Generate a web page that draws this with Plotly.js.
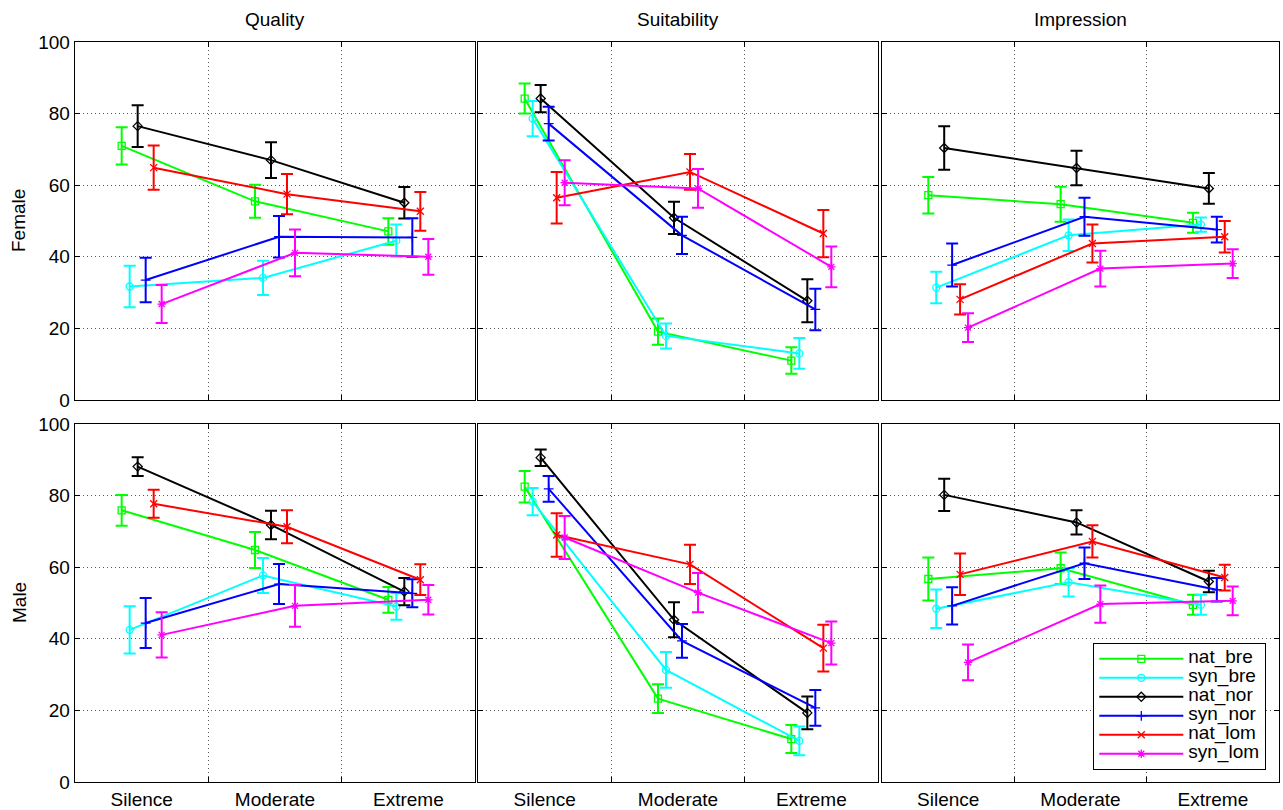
<!DOCTYPE html>
<html><head><meta charset="utf-8">
<script src="https://cdn.plot.ly/plotly-3.0.1.min.js"></script>
<style>html,body{margin:0;padding:0;background:#fff}</style>
</head><body><div id="chart" style="width:1283px;height:810px"></div>
<script>
// ---- data ----
const categories = ['Silence', 'Moderate', 'Extreme'];
const seriesNames = ['nat_bre', 'syn_bre', 'nat_nor', 'syn_nor', 'nat_lom', 'syn_lom'];
const panelTitles = ['Quality', 'Suitability', 'Impression'];
const rowTitles = ['Female', 'Male'];
const yTicks = [0, 20, 40, 60, 80, 100];

// rows follow seriesNames order; columns follow categories
const femaleQuality = [
  [71.0, 55.5, 47.1], [31.7, 34.1, 44.5], [76.5, 67.0, 55.1],
  [33.5, 45.6, 45.4], [64.9, 57.5, 52.7], [26.8, 41.1, 40.0]];
const femaleQualityErr = [
  [5.2, 4.6, 3.7], [5.8, 4.8, 4.5], [5.8, 5.0, 4.4],
  [6.2, 5.8, 5.4], [6.2, 5.6, 5.4], [5.3, 6.5, 5.0]];

const femaleSuitability = [
  [84.2, 19.1, 11.0], [78.6, 17.9, 13.0], [84.2, 50.9, 27.7],
  [77.2, 46.0, 25.3], [56.5, 63.7, 46.5], [60.7, 59.1, 37.2]];
const femaleSuitabilityErr = [
  [4.2, 3.7, 3.7], [4.9, 3.5, 4.3], [3.8, 4.5, 6.0],
  [4.7, 5.2, 5.8], [7.2, 5.0, 6.6], [6.3, 5.4, 5.7]];

const femaleImpression = [
  [57.2, 54.7, 49.5], [31.4, 46.0, 49.0], [70.4, 64.8, 59.1],
  [37.7, 51.2, 47.6], [28.1, 43.7, 45.6], [20.2, 36.7, 38.1]];
const femaleImpressionErr = [
  [5.1, 4.9, 2.8], [4.4, 4.4, 2.0], [6.1, 4.8, 4.3],
  [6.0, 5.3, 3.6], [4.2, 5.3, 4.4], [4.0, 5.0, 4.0]];

const maleQuality = [
  [75.9, 64.8, 50.9], [42.5, 57.7, 49.0], [88.1, 71.8, 53.2],
  [44.4, 55.3, 52.7], [77.7, 71.3, 56.5], [41.1, 49.2, 50.9]];
const maleQualityErr = [
  [4.3, 5.0, 3.6], [6.6, 4.9, 3.7], [2.6, 4.0, 3.8],
  [7.0, 5.6, 3.9], [3.9, 4.6, 4.3], [6.3, 5.8, 4.1]];

const maleSuitability = [
  [82.5, 23.3, 12.0], [78.3, 31.3, 11.5], [90.6, 45.3, 19.3],
  [81.9, 39.4, 20.7], [69.0, 60.8, 37.4], [68.3, 52.9, 38.8]];
const maleSuitabilityErr = [
  [4.4, 4.0, 3.9], [3.8, 5.0, 4.0], [2.3, 4.9, 4.6],
  [3.6, 4.7, 5.0], [6.1, 5.5, 6.5], [6.0, 5.5, 6.0]];

const maleImpression = [
  [56.7, 59.7, 49.5], [48.4, 55.8, 49.5], [80.2, 72.5, 56.0],
  [49.2, 61.1, 53.7], [58.0, 67.2, 57.1], [33.4, 49.7, 50.6]];
const maleImpressionErr = [
  [6.0, 4.4, 2.8], [5.4, 4.0, 2.8], [4.5, 3.4, 3.0],
  [5.2, 4.4, 3.3], [5.8, 4.5, 3.6], [5.0, 5.2, 4.0]];

// ---- styles ----
const colors = ['#00ff00', '#00ffff', '#000000', '#0000ff', '#ff0000', '#ff00ff'];
const symbols = ['square-open', 'circle-open', 'diamond-open', 'cross-thin-open', 'x-thin-open', 'asterisk-open'];
const dodge = [-0.15, -0.09, -0.03, 0.03, 0.09, 0.15];
const FONT = 'Liberation Sans, Arial, Helvetica, sans-serif';
const GRID = {showgrid: true, gridcolor: '#555', griddash: '1px,3px', gridwidth: 1};

const panels = [
  [femaleQuality, femaleQualityErr], [femaleSuitability, femaleSuitabilityErr], [femaleImpression, femaleImpressionErr],
  [maleQuality, maleQualityErr], [maleSuitability, maleSuitabilityErr], [maleImpression, maleImpressionErr]];

const W = 1283, H = 810;
const xDom = [[75 / W, 475 / W], [478 / W, 878 / W], [882 / W, 1279 / W]];
const yDom = [[1 - 400 / H, 1 - 42 / H], [1 - 782 / H, 1 - 424 / H]];

const traces = [];
panels.forEach((pd, p) => {
  const [means, errs] = pd;
  seriesNames.forEach((name, s) => {
    traces.push({
      type: 'scatter', mode: 'lines+markers',
      name: '<span style="font-size:19px">' + name + '</span>',
      x: categories.map((c, i) => i + 1 + dodge[s]),
      y: means[s],
      error_y: {type: 'data', array: errs[s], visible: true, color: colors[s], thickness: 2, width: 6},
      line: {color: colors[s], width: 2},
      marker: {symbol: symbols[s], size: 7, color: colors[s], line: {color: colors[s], width: 1.3}},
      xaxis: 'x' + (p + 1), yaxis: 'y' + (p + 1),
      showlegend: p === 5, hoverinfo: 'skip'
    });
  });
});

const layout = {
  width: W, height: H,
  margin: {l: 0, r: 0, t: 0, b: 0},
  paper_bgcolor: '#fff', plot_bgcolor: '#fff',
  font: {family: FONT, size: 19, color: '#000'},
  showlegend: true,
  legend: {
    x: 1093 / W, y: 1 - 643 / H, xanchor: 'left', yanchor: 'top',
    bgcolor: '#fff', bordercolor: '#000', borderwidth: 1.3,
    font: {family: FONT, size: 12, color: '#000'},
    itemwidth: 84, tracegroupgap: 0
  },
  annotations: []
};

for (let p = 0; p < 6; p++) {
  const row = Math.floor(p / 3), col = p % 3;
  const k = p + 1;
  layout['xaxis' + (k === 1 ? '' : k)] = {
    domain: xDom[col], anchor: 'y' + k, range: [0.5, 3.5],
    tickmode: 'array', tickvals: [1, 2, 3], ticktext: categories,
    showticklabels: row === 1, ticks: '', showgrid: false, zeroline: false,
    showline: true, mirror: 'ticks', linecolor: '#000', linewidth: 1.3,
    tickfont: {family: FONT, size: 19, color: '#000'},
    minor: Object.assign({tickmode: 'array', tickvals: [1.5, 2.5], ticks: 'inside', ticklen: 5, tickcolor: '#000'}, GRID),
    fixedrange: true
  };
  layout['yaxis' + (k === 1 ? '' : k)] = Object.assign({
    domain: yDom[row], anchor: 'x' + k, range: [0, 100],
    tickmode: 'array', tickvals: yTicks, showticklabels: col === 0,
    ticks: 'inside', ticklen: 5, tickcolor: '#000', zeroline: false,
    showline: true, mirror: 'ticks', linecolor: '#000', linewidth: 1.3,
    tickfont: {family: FONT, size: 19, color: '#000'},
    fixedrange: true
  }, GRID);
}

panelTitles.forEach((t, c) => {
  layout.annotations.push({
    text: t, xref: 'paper', yref: 'paper', showarrow: false,
    x: (xDom[c][0] + xDom[c][1]) / 2, y: 1 - 19 / H, xanchor: 'center', yanchor: 'middle',
    font: {family: FONT, size: 19, color: '#000'}
  });
});
rowTitles.forEach((t, r) => {
  layout.annotations.push({
    text: t, xref: 'paper', yref: 'paper', showarrow: false, textangle: -90,
    x: 19 / W, y: (yDom[r][0] + yDom[r][1]) / 2, xanchor: 'center', yanchor: 'middle',
    font: {family: FONT, size: 19, color: '#000'}
  });
});

Plotly.newPlot('chart', traces, layout, {staticPlot: true, displayModeBar: false});
</script>
</body></html>
